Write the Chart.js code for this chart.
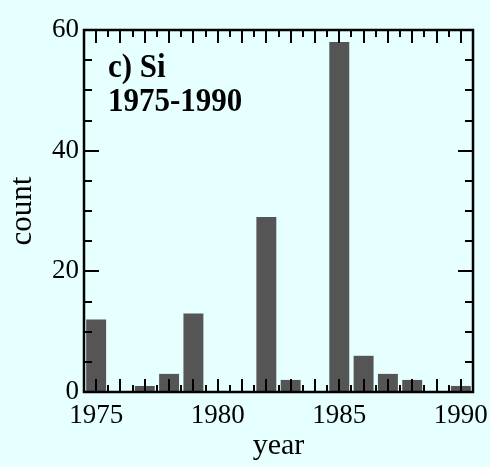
<!DOCTYPE html>
<html><head><meta charset="utf-8">
<script src="https://cdn.jsdelivr.net/npm/chart.js@4/dist/chart.umd.min.js"></script>
<style>html,body{margin:0;padding:0;background:#e6ffff;} canvas{display:block;}</style>
</head><body>
<canvas id="c" width="490" height="467" style="width:490px;height:467px"></canvas>
<script>
const years = [1975,1976,1977,1978,1979,1980,1981,1982,1983,1984,1985,1986,1987,1988,1989,1990];
const counts = [12,0,1,3,13,0,0,29,2,0,58,6,3,2,0,1];
const xTickLabels = [1975,1980,1985,1990];
const yTickLabels = [0,20,40,60];
const xLabel = 'year';
const yLabel = 'count';
const panelTitle = ['c) Si', '1975-1990'];

const FONT = "'Liberation Serif', 'Times New Roman', serif";

const framePlugin = {
  id: 'frame',
  afterDatasetsDraw(chart) {
    const {ctx, chartArea: {left, right, top, bottom}, scales: {x, y}} = chart;
    ctx.save();
    ctx.strokeStyle = '#000';
    ctx.lineWidth = 2;
    ctx.beginPath();
    for (let v = x.min; v <= x.max + 1e-9; v += 0.5) {
      const px = Math.round(x.getPixelForValue(v));
      const len = Number.isInteger(v) ? 13 : 7;
      ctx.moveTo(px, bottom); ctx.lineTo(px, bottom - len);
      ctx.moveTo(px, top); ctx.lineTo(px, top + len);
    }
    for (let v = y.min; v <= y.max + 1e-9; v += 5) {
      const py = Math.round(y.getPixelForValue(v));
      const len = (v % 20 === 0) ? 15 : 8;
      ctx.moveTo(left, py); ctx.lineTo(left + len, py);
      ctx.moveTo(right, py); ctx.lineTo(right - len, py);
    }
    ctx.stroke();
    ctx.lineWidth = 2.5;
    ctx.strokeRect(left, top, right - left, bottom - top);
    ctx.fillStyle = '#000';
    ctx.font = "bold 31px " + FONT;
    ctx.textAlign = 'left';
    ctx.textBaseline = 'alphabetic';
    ctx.save();
    ctx.translate(108, 77);
    ctx.scale(1, 1.12);
    ctx.fillText(panelTitle[0], 0, 0);
    ctx.restore();
    ctx.save();
    ctx.translate(108, 111);
    ctx.scale(1, 1.12);
    ctx.fillText(panelTitle[1], 0, 0);
    ctx.restore();
    ctx.restore();
  }
};

const bgPlugin = {
  id: 'bg',
  beforeDraw(chart) {
    const ctx = chart.ctx;
    ctx.save();
    ctx.fillStyle = '#e6ffff';
    ctx.fillRect(0, 0, chart.width, chart.height);
    ctx.restore();
  }
};

new Chart(document.getElementById('c'), {
  type: 'bar',
  data: {
    datasets: [{
      data: years.map((yr, i) => ({x: yr, y: counts[i]})),
      backgroundColor: '#555555',
      borderWidth: 0,
      barPercentage: 0.82,
      categoryPercentage: 1.0
    }]
  },
  options: {
    responsive: false,
    animation: false,
    devicePixelRatio: 1,
    layout: {padding: {left: 0, top: 30, right: 17, bottom: 0}},
    plugins: {legend: {display: false}, tooltip: {enabled: false}},
    scales: {
      x: {
        type: 'linear',
        min: 1974.5,
        max: 1990.5,
        offset: false,
        grid: {display: false, drawTicks: false},
        border: {display: false},
        afterBuildTicks(scale) { scale.ticks = xTickLabels.map(v => ({value: v})); },
        afterFit(scale) { scale.height = 75; scale.paddingLeft = 0; scale.paddingRight = 0; },
        ticks: {
          color: '#000',
          padding: 8,
          maxRotation: 0,
          autoSkip: false,
          font: {family: FONT, size: 27},
          callback: v => String(v)
        },
        title: {display: true, text: xLabel, color: '#000', font: {family: FONT, size: 30}, padding: {top: 0, bottom: 3}}
      },
      y: {
        min: 0,
        max: 60,
        grid: {display: false, drawTicks: false},
        border: {display: false},
        afterBuildTicks(scale) { scale.ticks = yTickLabels.map(v => ({value: v})); },
        afterFit(scale) { scale.width = 84; scale.paddingTop = 0; scale.paddingBottom = 0; },
        ticks: {
          color: '#000',
          padding: 5,
          font: {family: FONT, size: 27}
        },
        title: {display: true, text: yLabel, color: '#000', font: {family: FONT, size: 31}, padding: {top: 4, bottom: 0}}
      }
    }
  },
  plugins: [bgPlugin, framePlugin]
});
</script>
</body></html>
